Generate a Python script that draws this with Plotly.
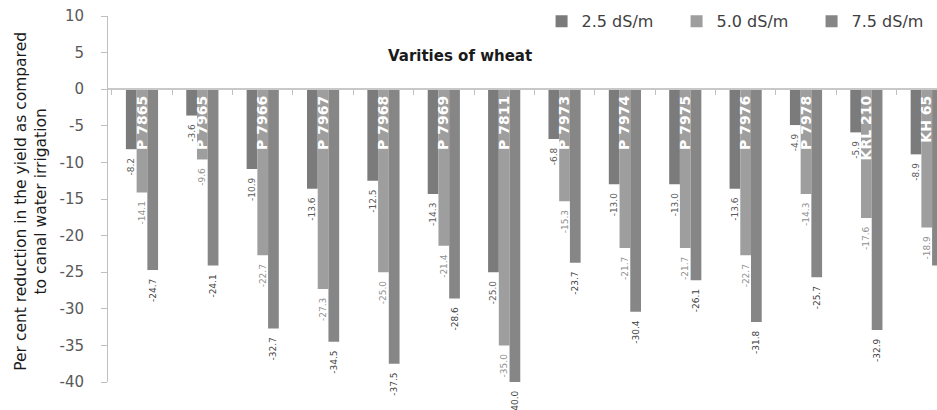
import plotly.graph_objects as go

varieties = ["P 7865", "P 7965", "P 7966", "P 7967", "P 7968", "P 7969", "P 7811",
             "P 7973", "P 7974", "P 7975", "P 7976", "P 7978", "KRL 210", "KH 65"]
ec_25 = [-8.2, -3.6, -10.9, -13.6, -12.5, -14.3, -25.0, -6.8, -13.0, -13.0, -13.6, -4.9, -5.9, -8.9]
ec_50 = [-14.1, -9.6, -22.7, -27.3, -25.0, -21.4, -35.0, -15.3, -21.7, -21.7, -22.7, -14.3, -17.6, -18.9]
ec_75 = [-24.7, -24.1, -32.7, -34.5, -37.5, -28.6, -40.0, -23.7, -30.4, -26.1, -31.8, -25.7, -32.9, -24.1]
series_names = ["2.5 dS/m", "5.0 dS/m", "7.5 dS/m"]
y_ticks = [10, 5, 0, -5, -10, -15, -20, -25, -30, -35, -40]

FONT = "DejaVu Sans"
bar_colors = ["#7b7b7b", "#9e9e9e", "#868686"]
label_colors = ["#5a5a5a", "#909090", "#3f3f3f"]

fig = go.Figure()
for name, vals, c, lc in zip(series_names, [ec_25, ec_50, ec_75], bar_colors, label_colors):
    fig.add_trace(go.Bar(
        x=varieties, y=vals, name=name,
        marker=dict(color=c, line=dict(width=0)),
        texttemplate="%{y:.1f}\u00a0\u00a0", textposition="outside", textangle=-90,
        textfont=dict(family=FONT, size=9, color=lc),
        constraintext="none", cliponaxis=False,
    ))

fig.update_layout(
    width=937, height=410,
    margin=dict(l=108, r=0, t=16, b=28, autoexpand=False),
    paper_bgcolor="white", plot_bgcolor="white",
    barmode="group", bargap=0.467, bargroupgap=0,
    font=dict(family=FONT, color="#404040"),
    showlegend=True,
    legend=dict(orientation="h", x=0.523, y=1.032, xanchor="left", yanchor="top",
                font=dict(family=FONT, size=16, color="#404040"),
                entrywidth=90, bgcolor="rgba(0,0,0,0)", traceorder="normal"),
    xaxis=dict(
        type="category", range=[-0.563, 13.17],
        anchor="free", position=0.8, side="bottom",
        showline=True, linecolor="#c8c8c8", linewidth=2,
        ticks="outside", tickson="boundaries", ticklen=5, tickcolor="#bfbfbf",
        tickangle=-90,
        tickfont=dict(family=FONT, size=14, color="white", weight="bold"),
        showgrid=False, zeroline=False,
    ),
    yaxis=dict(
        range=[-40, 10], tickvals=y_ticks, ticktext=[str(v) for v in y_ticks],
        showline=True, linecolor="#bfbfbf", linewidth=1,
        ticks="outside", ticklen=6, tickcolor="#bfbfbf",
        ticklabelstandoff=14, ticklabeloverflow="allow",
        tickfont=dict(family=FONT, size=15, color="#595959"),
        showgrid=False, zeroline=False,
    ),
    annotations=[
        dict(text="Varities of wheat", xref="paper", yref="paper", x=0.425, y=0.920,
             showarrow=False, font=dict(family=FONT, size=15, color="#1a1a1a", weight="bold")),
        dict(text="Per cent reduction in the yield as compared<br>to canal water irrigation",
             xref="paper", yref="paper", x=-0.093, y=0.495, xanchor="center", yanchor="middle",
             textangle=-90, showarrow=False,
             font=dict(family=FONT, size=15.5, color="#1a1a1a")),
    ],
)

fig.write_html("out.html", config={"displayModeBar": False},
               post_script="document.body.style.margin='0';document.body.style.overflow='hidden';")
